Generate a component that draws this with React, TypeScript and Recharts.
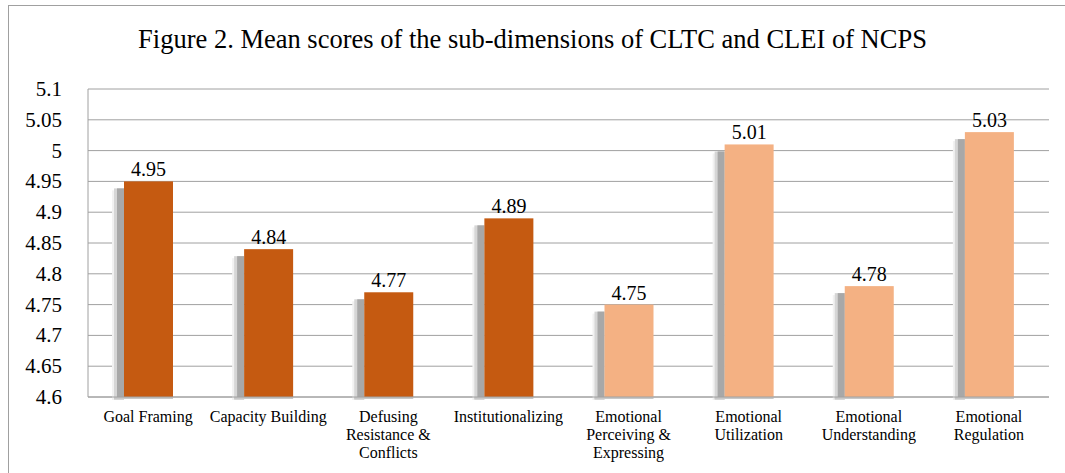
import { BarChart, Bar, XAxis, YAxis, CartesianGrid, Cell, LabelList, Text } from 'recharts';

const categories = [
    'Goal Framing', 'Capacity Building', 'Defusing Resistance & Conflicts', 'Institutionalizing',
    'Emotional Perceiving & Expressing', 'Emotional Utilization', 'Emotional Understanding', 'Emotional Regulation',
];
const scores = [4.95, 4.84, 4.77, 4.89, 4.75, 5.01, 4.78, 5.03];
const groups = ['CLTC', 'CLTC', 'CLTC', 'CLTC', 'CLEI', 'CLEI', 'CLEI', 'CLEI'];
const yTicks = [4.6, 4.65, 4.7, 4.75, 4.8, 4.85, 4.9, 4.95, 5, 5.05, 5.1];

const data = categories.map((name, i) => ({ name, score: scores[i], group: groups[i] }));

const colors: Record<string, string> = { CLTC: '#C55A11', CLEI: '#F4B183' };
const serif = 'Liberation Serif';

// bar with the soft grey drop shadow to its left
const ShadowBar = (props: any) => {
    const { x, y, width, height, fill } = props;
    return (
        <g>
            <rect x={x - 12} y={y + 9} width={12} height={height - 6} fill="#f2f2f2" />
            <rect x={x - 10} y={y + 7} width={10} height={height - 4} fill="#d6d6d6" />
            <rect x={x - 7} y={y + 7} width={7} height={height - 5} fill="#a8a8a8" />
            <rect x={x - 10} y={y + height} width={width + 10} height={2} fill="#c8c8c8" />
            <rect x={x} y={y} width={width} height={height} fill={fill} />
        </g>
    );
};

const CategoryTick = (props: any) => {
    const { x, y, payload } = props;
    return (
        <Text x={x} y={y + 6} width={122} textAnchor="middle" verticalAnchor="start"
            fontSize={16} lineHeight={18} fill="#000" fontFamily={serif}>
            {payload.value}
        </Text>
    );
};

const ValueTick = (props: any) => {
    const { x, y, payload } = props;
    return (
        <text x={x} y={y + 7} textAnchor="end" fontSize={21} fill="#000"
            style={{ fontFamily: serif }}>
            {String(payload.value)}
        </text>
    );
};

const BarLabel = (props: any) => {
    const { x, y, width, value } = props;
    return (
        <text x={x + width / 2} y={y - 5} textAnchor="middle" fontSize={20} fill="#000"
            style={{ fontFamily: serif }}>
            {String(value)}
        </text>
    );
};

export default function App() {
    return (
        <div style={{ position: 'absolute', left: 0, top: 0, width: 1065, height: 473, background: '#fff', fontFamily: serif }}>
            <div style={{
                position: 'absolute', left: 8, top: 5, width: 1057, height: 468,
                borderLeft: '1px solid #a0a0a0', borderTop: '1px solid #a0a0a0'
            }} />
            <div style={{
                position: 'absolute', left: 0, top: 24, width: 1065, textAlign: 'center',
                fontSize: 26.5, color: '#000'
            }}>
                Figure 2. Mean scores of the sub-dimensions of CLTC and CLEI of NCPS
            </div>
            <div style={{ position: 'absolute', left: 0, top: 0 }}>
                <BarChart width={1065} height={473} data={data}
                    margin={{ top: 89, right: 16, left: 8, bottom: 6 }} barCategoryGap="30%">
                    <CartesianGrid vertical={false} stroke="#a0a0a0" strokeWidth={1} />
                    <XAxis dataKey="name" interval={0} height={70} tickLine={false}
                        axisLine={{ stroke: '#a0a0a0' }} tick={<CategoryTick />} />
                    <YAxis domain={[4.6, 5.1]} ticks={yTicks} width={80} tickLine={false}
                        axisLine={{ stroke: '#a0a0a0' }} tickMargin={20} tick={<ValueTick />} />
                    <Bar dataKey="score" barSize={49} shape={<ShadowBar />} isAnimationActive={false}>
                        {data.map((d) => <Cell key={d.name} fill={colors[d.group]} />)}
                        <LabelList dataKey="score" content={<BarLabel />} />
                    </Bar>
                </BarChart>
            </div>
        </div>
    );
}
